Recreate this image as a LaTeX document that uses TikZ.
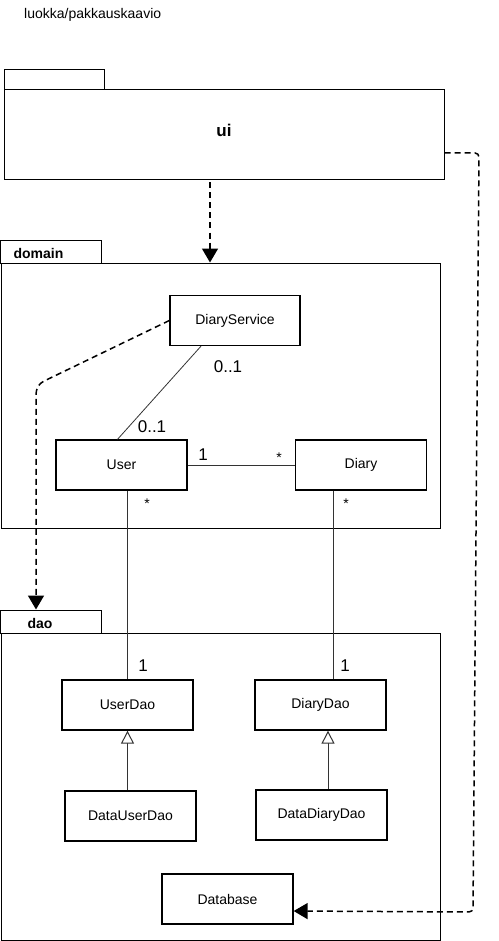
\documentclass[tikz,border=0pt]{standalone}
\usepackage{fontspec}
\setmainfont{Liberation Sans}
\usetikzlibrary{arrows.meta,calc}
\begin{document}
\begin{tikzpicture}[x=1pt,y=-1pt,
  pkg/.style={draw,line width=1pt,inner sep=0pt,fill=white},
  cls/.style={draw,line width=1.3pt,inner sep=0pt,minimum width=131pt,minimum height=50pt,font=\fontsize{14}{16}\selectfont},
  dep/.style={line width=1.5pt,dash pattern=on 6pt off 4pt,-{Triangle[width=16pt,length=14pt]},rounded corners=4pt},
  assoc/.style={line width=0.8pt,draw=black!80},
  inh/.style={line width=1pt,draw=black!80,-{Triangle[open,width=13pt,length=13pt,fill=white]}},
  mult/.style={inner sep=0pt,font=\fontsize{17}{19}\selectfont},
  star/.style={inner sep=0pt,font=\fontsize{14}{16}\selectfont},
  plabel/.style={inner sep=0pt,font=\bfseries\fontsize{14}{16}\selectfont}
]
\useasboundingbox[fill=white] (0,0) rectangle (498,941);
\node[inner sep=0pt,anchor=west,font=\fontsize{14}{16}\selectfont] (title) at (24,15) {luokka/pakkauskaavio};

% ui package
\node[pkg,minimum width=100pt,minimum height=20pt] (uitab) at (54,80) {};
\node[pkg,minimum width=440pt,minimum height=90pt] (uibody) at (224,135) {};
\node[inner sep=0pt,font=\bfseries\fontsize{17}{19}\selectfont] (uilabel) at (224,130) {ui};

% domain package
\node[pkg,minimum width=101pt,minimum height=23pt] (domtab) at (51,251.5) {};
\node[pkg,minimum width=439pt,minimum height=265pt] (dombody) at (220.5,395.5) {};
\node[plabel] (domlabel) at (38.5,253) {domain};

% dao package
\node[pkg,minimum width=101pt,minimum height=23pt] (daotab) at (51,621.5) {};
\node[pkg,minimum width=439pt,minimum height=307pt] (daobody) at (220.5,786.5) {};
\node[plabel] (daolabel) at (40,623) {dao};

% classes
\node[cls,minimum width=130pt] (dsvc) at (235,320.5) {DiaryService};
\node[cls] (user) at (121.5,465) {User};
\node[cls] (diary) at (361,465) {Diary};
\node[cls] (userdao) at (127.5,705) {UserDao};
\node[cls] (diarydao) at (320.5,705) {DiaryDao};
\node[cls] (datauserdao) at (130.5,816) {DataUserDao};
\node[cls] (datadiarydao) at (321.5,815) {DataDiaryDao};
\node[cls] (db) at (227.5,899) {Database};

% coordinates
\coordinate (x210) at (210,0);
\coordinate (x36) at (36,0);
\coordinate (x333) at (333,0);
\coordinate (x328) at (328,0);

% dependencies
\draw[dep] (uibody.south -| x210) ++(0,2) -- (dombody.north -| x210);
\draw[dep] (dsvc.west) -- (40,383) -- (36,390) -- (daotab.north -| x36);
\draw[dep] ($(uibody.east)+(0,18)$) -- (479,153) -- (473,912) -- ($(db.east)+(0,12)$);

% associations
\draw[assoc] ($(dsvc.south)+(-34,0)$) -- ($(user.north)+(-4,0)$);
\draw[assoc] (user.east) -- (diary.west);
\draw[assoc] (user.south -| userdao.north) -- (userdao.north);
\draw[assoc] (diary.south -| x333) -- (diarydao.north -| x333);

% inheritance
\draw[inh] (datauserdao.north -| userdao.south) -- (userdao.south);
\draw[inh] (datadiarydao.north -| x328) -- (diarydao.south -| x328);

% multiplicities
\node[mult] (m1) at (228,367) {0..1};
\node[mult] (m2) at (152,427) {0..1};
\node[mult] (m3) at (203,455) {1};
\node[star] (m4) at (279,458) {*};
\node[star] (m5) at (147,504) {*};
\node[star] (m6) at (346,504) {*};
\node[mult] (m7) at (143,666) {1};
\node[mult] (m8) at (345,666) {1};
\end{tikzpicture}
\end{document}
